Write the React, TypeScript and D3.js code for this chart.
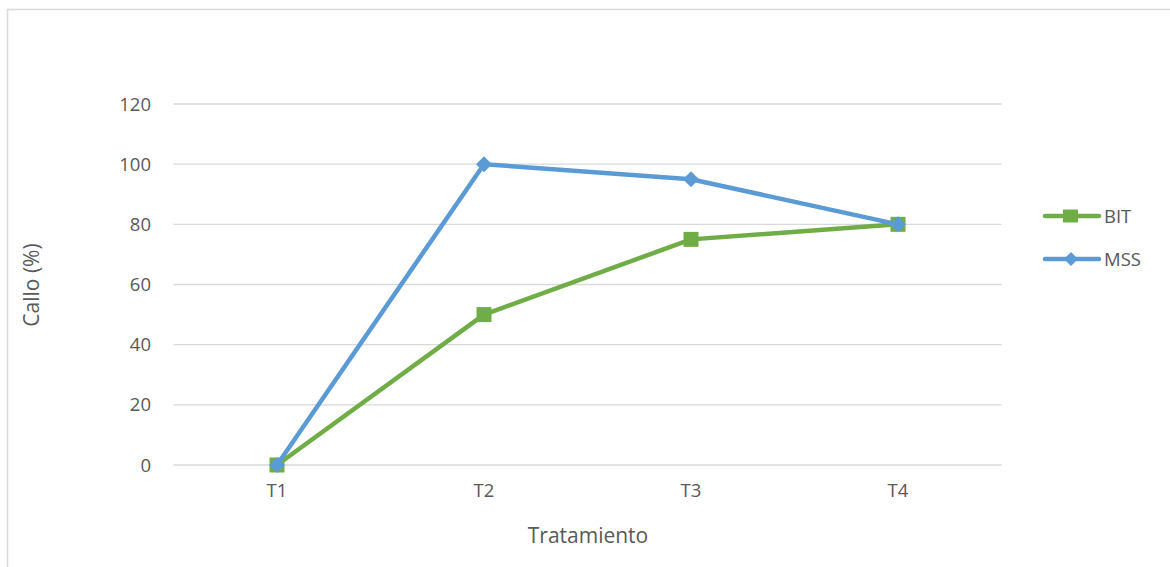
import React from "react";
import * as d3 from "d3";

const categories = ["T1", "T2", "T3", "T4"];
const bitValues = [0, 50, 75, 80];
const mssValues = [0, 100, 95, 80];
const yTicks = [0, 20, 40, 60, 80, 100, 120];
const seriesNames = ["BIT", "MSS"];

const W = 1170;
const H = 567;
const FONT = "'Open Sans', 'Liberation Sans', sans-serif";
const TEXT = "#595959";
const GREEN = "#70AD47";
const BLUE = "#5B9BD5";

export default function App() {
  const x = d3.scaleBand<string>().domain(categories).range([173.5, 1001.5]);
  const y = d3.scaleLinear().domain([0, 120]).range([465, 104]);
  const cx = (c: string) => (x(c) as number) + x.bandwidth() / 2;
  const line = d3
    .line<number>()
    .x((_, i) => cx(categories[i]))
    .y((v) => y(v));

  const series = [
    { name: seriesNames[0], values: bitValues, color: GREEN, marker: "square" },
    { name: seriesNames[1], values: mssValues, color: BLUE, marker: "diamond" },
  ];

  const marker = (kind: string, px: number, py: number, color: string, key: any) =>
    kind === "square" ? (
      <rect key={key} x={px - 7.5} y={py - 7.5} width={15} height={15} fill={color} />
    ) : (
      <path
        key={key}
        d={`M${px},${py - 8} L${px + 8},${py} L${px},${py + 8} L${px - 8},${py} Z`}
        fill={color}
      />
    );

  return (
    <svg
      width={W}
      height={H}
      style={{ position: "fixed", left: 0, top: 0, background: "#fff" }}
      fontFamily={FONT}
    >
      <rect x={7.5} y={9.5} width={W + 10} height={H + 10} fill="#fff" stroke="#D9D9D9" strokeWidth={1.5} />
      {yTicks.map((t) => (
        <g key={t}>
          <line x1={173.5} x2={1001.5} y1={y(t)} y2={y(t)} stroke="#D9D9D9" strokeWidth={1.3} />
          <text x={151} y={y(t)} dy="0.36em" textAnchor="end" fontSize={18.5} fill={TEXT}>
            {t}
          </text>
        </g>
      ))}
      {categories.map((c) => (
        <text key={c} x={cx(c)} y={497} textAnchor="middle" fontSize={18.5} fill={TEXT}>
          {c}
        </text>
      ))}
      <text x={588} y={543} textAnchor="middle" fontSize={21} fill={TEXT}>
        Tratamiento
      </text>
      <text
        transform={`translate(39,285) rotate(-90)`}
        textAnchor="middle"
        fontSize={21}
        fill={TEXT}
      >
        Callo (%)
      </text>
      {series.map((s) => (
        <g key={s.name}>
          <path
            d={line(s.values) || ""}
            fill="none"
            stroke={s.color}
            strokeWidth={4.5}
            strokeLinejoin="round"
            strokeLinecap="round"
          />
          {s.values.map((v, i) => marker(s.marker, cx(categories[i]), y(v), s.color, i))}
        </g>
      ))}
      {series.map((s, i) => {
        const ly = 216 + i * 43;
        return (
          <g key={s.name}>
            <line x1={1045} x2={1099} y1={ly} y2={ly} stroke={s.color} strokeWidth={4.5} strokeLinecap="round" />
            {s.marker === "square" ? (
              <rect x={1063} y={ly - 6.5} width={15} height={13} fill={s.color} />
            ) : (
              <path d={`M1071,${ly - 7} L1078,${ly} L1071,${ly + 7} L1064,${ly} Z`} fill={s.color} />
            )}
            <text x={1104} y={ly} dy="0.36em" fontSize={18.5} fill={TEXT}>
              {s.name}
            </text>
          </g>
        );
      })}
    </svg>
  );
}
